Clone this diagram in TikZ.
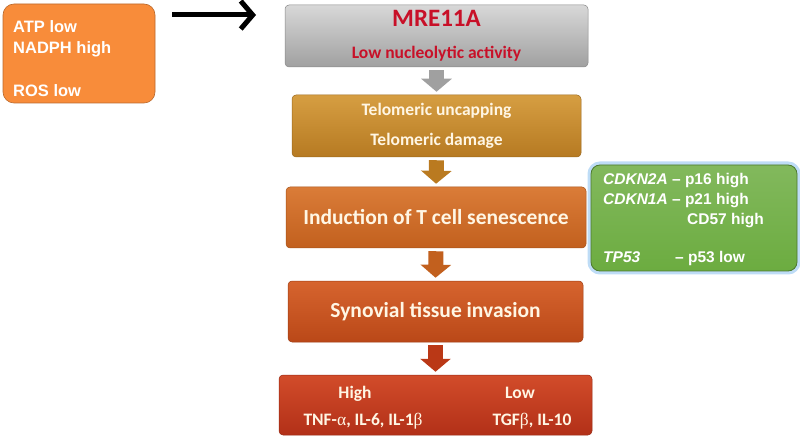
\documentclass[tikz,border=0pt]{standalone}
\usepackage{fontspec}
\usetikzlibrary{arrows.meta}
\newfontfamily\calib{Carlito}
\newfontfamily\arial{Liberation Sans}
\newfontfamily\grk{Liberation Serif}
\definecolor{envorange}{RGB}{248,140,58}
\definecolor{mretop}{RGB}{216,216,216}
\definecolor{mrebot}{RGB}{160,160,160}
\definecolor{mretxt}{RGB}{200,16,40}
\definecolor{telotop}{RGB}{214,158,66}
\definecolor{telobot}{RGB}{182,122,34}
\definecolor{inductop}{RGB}{218,124,56}
\definecolor{inducbot}{RGB}{194,96,30}
\definecolor{syntop}{RGB}{214,100,46}
\definecolor{synbot}{RGB}{186,72,24}
\definecolor{cytotop}{RGB}{210,76,42}
\definecolor{cytobot}{RGB}{178,48,24}
\definecolor{genegreen}{RGB}{108,172,64}
\definecolor{glowblue}{RGB}{190,220,246}
\definecolor{boxtext}{RGB}{255,246,228}
\begin{document}
\begin{tikzpicture}[x=1pt,y=-1pt,every text node part/.style={align=center},
flowbox/.style 2 args={rounded corners=4pt, inner sep=0pt, top color=#1, bottom color=#2, draw=#2!85!black, line width=0.5pt, text=boxtext, font=\calib\bfseries\fontsize{21.5}{21}\selectfont},
blockarr/.style={line width=15pt, draw=#1, -{Triangle[width=30pt,length=13pt]}, shorten <=3pt, shorten >=3pt},
sidetext/.style={anchor=base west, inner sep=0pt, text=white, font=\arial\bfseries\fontsize{16.5}{20}\selectfont},
genetext/.style={anchor=base west, inner sep=0pt, text=white, font=\arial\bfseries\fontsize{15.5}{18}\selectfont},
cytotext/.style={anchor=base, inner sep=0pt, text=boxtext, font=\calib\bfseries\fontsize{17.5}{20}\selectfont}]
\useasboundingbox (0,0) rectangle (800,438);
\node [rounded corners=11pt, fill=envorange, draw=envorange!75!black, line width=0.6pt, minimum width=152, minimum height=99] (env) at (79,53.5) {};
\node [sidetext] (atp) at (13,33) {ATP low};
\node [sidetext] (nadph) at (13,54) {NADPH high};
\node [sidetext] (ros) at (13,97) {ROS low};
\coordinate (arrtail) at (172,15);
\coordinate (arrhead) at (256,15);
\draw [line width=5pt, -{Straight Barb[length=12pt,width=28pt]}] (arrtail) -- (arrhead);
\node [flowbox={mretop}{mrebot}, text=mretxt, minimum width=303, minimum height=62, font=\calib\bfseries\fontsize{17.5}{21}\selectfont] (mre) at (436.5,36)
  {{\fontsize{25}{25}\selectfont MRE11A}\\[11pt]Low nucleolytic activity};
\node [flowbox={telotop}{telobot}, minimum width=289, minimum height=62, font=\calib\bfseries\fontsize{17.5}{21}\selectfont] (telo) at (436.5,126)
  {Telomeric uncapping\\[9pt]Telomeric damage};
\node [flowbox={inductop}{inducbot}, minimum width=300, minimum height=61] (induc) at (436,217.5) {Induction of T cell senescence};
\node [flowbox={syntop}{synbot}, minimum width=295, minimum height=61] (syn) at (435.5,311.5) {Synovial tissue invasion};
\node [flowbox={cytotop}{cytobot}, minimum width=313, minimum height=60] (cyto) at (435.5,405) {};
\node [cytotext] (high) at (355,398) {High};
\node [cytotext] (highval) at (363,425) {TNF-{\grk\mdseries α}, IL-6, IL-1{\grk\mdseries β}};
\node [cytotext] (low) at (520,398) {Low};
\node [cytotext] (lowval) at (532,425) {TGF{\grk\mdseries β}, IL-10};
\draw [blockarr={mrebot}] (mre.south) -- (telo.north);
\draw [blockarr={telobot!95!orange}] (telo.south) -- (induc.north);
\draw [blockarr={inducbot}] (induc.south) -- (syn.north);
\draw [blockarr={cytobot!90!orange}] (syn.south) -- (cyto.north);
\node [rounded corners=9pt, top color=genegreen!85!white, bottom color=genegreen, draw=genegreen!70!black, line width=0.8pt, preaction={draw=glowblue, line width=7pt}, minimum width=206, minimum height=106] (genes) at (694,218) {};
\node [genetext] (p16) at (603,185) {\textit{CDKN2A} – p16 high};
\node [genetext] (p21) at (603,205) {\textit{CDKN1A} – p21 high};
\node [genetext] (cd57) at (687,225) {CD57 high};
\node [genetext] (tp53) at (603,263) {\textit{TP53}};
\node [genetext] (p53) at (675,263) {– p53 low};
\end{tikzpicture}
\end{document}
